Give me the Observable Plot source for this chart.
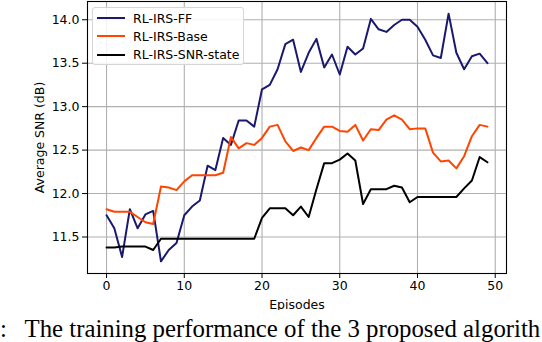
<!DOCTYPE html>
<html>
<head>
<meta charset="utf-8">
<script src="https://cdn.jsdelivr.net/npm/d3@7"></script>
<script src="https://cdn.jsdelivr.net/npm/@observablehq/plot@0.6"></script>
<style>
  body { margin: 0; background: #fff; }
  #wrap { position: relative; width: 542px; height: 342px; overflow: hidden; background: #fff; }
  #legend { position: absolute; left: 92px; top: 7px; width: 152px; height: 58px; box-sizing: border-box;
    border: 1px solid #d6d6d6; border-radius: 3px; background: rgba(255,255,255,0.85);
    font-family: "DejaVu Sans", sans-serif; font-size: 12.5px; color: #000; }
  .row { position: absolute; left: 0; height: 18px; display: flex; align-items: center; }
  .sw { width: 28px; height: 2px; margin-left: 4px; margin-right: 8px; }
  .cap { position: absolute; top: 317px; font-family: "Liberation Serif", "Times New Roman", serif;
    font-size: 24.8px; line-height: 24.8px; white-space: nowrap; color: #000; }
</style>
</head>
<body>
<div id="wrap"></div>
<script>
const episodes = d3.range(50);
const seriesNames = ["RL-IRS-FF", "RL-IRS-Base", "RL-IRS-SNR-state"];
const seriesColors = ["#191970", "#ff4500", "#000000"];
const ff = [11.75,11.60,11.27,11.82,11.60,11.76,11.80,11.22,11.35,11.43,
            11.75,11.85,11.92,12.32,12.27,12.64,12.56,12.84,12.84,12.77,
            13.20,13.25,13.43,13.72,13.77,13.40,13.62,13.78,13.45,13.60,
            13.37,13.69,13.60,13.67,14.01,13.89,13.86,13.94,14.00,14.00,
            13.92,13.77,13.59,13.56,14.07,13.62,13.43,13.58,13.61,13.50];
const base = [11.82,11.79,11.79,11.79,11.73,11.67,11.65,12.08,12.07,12.04,
              12.14,12.21,12.21,12.21,12.21,12.24,12.65,12.52,12.58,12.56,
              12.64,12.77,12.79,12.60,12.49,12.53,12.50,12.64,12.77,12.77,
              12.72,12.71,12.79,12.61,12.74,12.73,12.85,12.90,12.85,12.74,
              12.75,12.75,12.47,12.37,12.38,12.29,12.43,12.66,12.79,12.77];
const snr = [11.38,11.38,11.39,11.39,11.39,11.39,11.35,11.48,11.48,11.48,
             11.48,11.48,11.48,11.48,11.48,11.48,11.48,11.48,11.48,11.48,
             11.72,11.83,11.83,11.83,11.75,11.85,11.73,12.05,12.35,12.35,
             12.39,12.46,12.38,11.88,12.05,12.05,12.05,12.09,12.07,11.90,
             11.96,11.96,11.96,11.96,11.96,11.96,12.06,12.15,12.42,12.36];
const xTicks = [0, 10, 20, 30, 40, 50];
const yTicks = [11.5, 12.0, 12.5, 13.0, 13.5, 14.0];
const xLabel = "Episodes";
const yLabel = "Average SNR (dB)";
const captionColon = ":";
const captionText = "The training performance of the 3 proposed algorith";

const allSeries = [ff, base, snr];
const data = allSeries.flatMap((vals, s) => vals.map((v, i) => ({episode: episodes[i], snr: v, series: seriesNames[s]})));

const chart = Plot.plot({
  width: 542,
  height: 310,
  marginLeft: 87,
  marginRight: 36,
  marginTop: 1,
  marginBottom: 37,
  style: {fontFamily: "DejaVu Sans, sans-serif", fontSize: "12.5px", color: "#000", background: "#fff"},
  x: {domain: [-2.45, 51.45]},
  y: {domain: [11.08, 14.21]},
  color: {domain: seriesNames, range: seriesColors},
  marks: [
    Plot.gridX(xTicks, {stroke: "#b0b0b0", strokeOpacity: 1, strokeWidth: 1.1}),
    Plot.gridY(yTicks, {stroke: "#b0b0b0", strokeOpacity: 1, strokeWidth: 1.1}),
    Plot.lineY(data, {x: "episode", y: "snr", z: "series", stroke: "series", strokeWidth: 2}),
    Plot.frame({stroke: "#000", strokeWidth: 1.1}),
    Plot.axisX({ticks: xTicks, tickSize: 5, tickPadding: 3, tickFormat: d3.format("d"),
      label: xLabel, labelAnchor: "center", labelArrow: "none", labelOffset: 35}),
    Plot.axisY({ticks: yTicks, tickSize: 5, tickPadding: 3, tickFormat: d3.format(".1f"),
      label: yLabel, labelAnchor: "center", labelArrow: "none", labelOffset: 52})
  ]
});

const wrap = document.getElementById("wrap");
wrap.appendChild(chart);

const legend = document.createElement("div");
legend.id = "legend";
seriesNames.forEach((name, i) => {
  const row = document.createElement("div");
  row.className = "row";
  row.style.top = (1 + i * 18.3) + "px";
  const sw = document.createElement("div");
  sw.className = "sw";
  sw.style.background = seriesColors[i];
  const t = document.createElement("span");
  t.textContent = name;
  row.appendChild(sw);
  row.appendChild(t);
  legend.appendChild(row);
});
wrap.appendChild(legend);

const c1 = document.createElement("div");
c1.className = "cap"; c1.style.left = "0px"; c1.textContent = captionColon;
const c2 = document.createElement("div");
c2.className = "cap"; c2.style.left = "24.5px"; c2.textContent = captionText;
wrap.appendChild(c1); wrap.appendChild(c2);
</script>
</body>
</html>
